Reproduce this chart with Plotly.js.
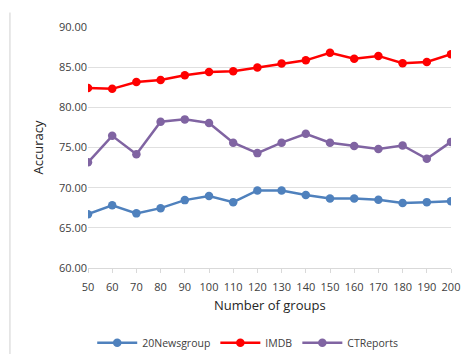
<!DOCTYPE html>
<html><head><meta charset="utf-8">
<script src="https://cdn.plot.ly/plotly-3.0.1.min.js"></script>
<style>html,body{margin:0;padding:0;background:#fff}#chart{width:461px;height:354px}</style>
</head><body><div id="chart"></div>
<script>
const groups = [50,60,70,80,90,100,110,120,130,140,150,160,170,180,190,200];
const newsgroup = [66.7,67.8,66.8,67.45,68.45,68.95,68.2,69.65,69.65,69.1,68.65,68.65,68.5,68.1,68.2,68.3];
const imdb = [82.4,82.3,83.15,83.4,84.0,84.4,84.5,84.95,85.45,85.85,86.8,86.05,86.4,85.5,85.65,86.6];
const ctreports = [73.15,76.45,74.15,78.2,78.5,78.05,75.6,74.3,75.6,76.7,75.6,75.2,74.8,75.25,73.6,75.7];
const yTicks = [60,65,70,75,80,85,90];

const mk = (name, y, color) => ({
  x: groups, y: y, name: name, type: 'scatter', mode: 'lines+markers',
  line: {color: color, width: 2.5}, marker: {color: color, size: 8.5}
});
const data = [
  mk('20Newsgroup', newsgroup, '#4F81BD'),
  mk('IMDB', imdb, '#FF0000'),
  mk('CTReports', ctreports, '#8064A2')
];
const font = {family: 'Open Sans, Liberation Sans, sans-serif', color: '#404040'};
const layout = {
  width: 461, height: 354,
  margin: {l: 88, r: 10, t: 27, b: 86, autoexpand: false},
  paper_bgcolor: '#fff', plot_bgcolor: '#fff',
  font: font,
  showlegend: true,
  legend: {orientation: 'h', x: 0.44, xanchor: 'center', y: -0.31, yanchor: 'middle',
           font: {size: 10.5, color: '#404040'}, itemwidth: 40, tracegroupgap: 0},
  xaxis: {
    range: [50, 200], tickvals: groups, ticktext: groups.map(String),
    showgrid: false, zeroline: false, showline: true, linecolor: '#d9d9d9', linewidth: 1,
    ticks: 'outside', ticklen: 4, tickcolor: '#d9d9d9', ticklabelstandoff: 5,
    tickfont: {size: 11, color: '#404040'}, automargin: false,
    fixedrange: true
  },
  yaxis: {
    range: [60, 90], tickvals: yTicks, ticktext: yTicks.map(v => v.toFixed(2)),
    showgrid: true, gridcolor: '#e0e0e0', gridwidth: 1, zeroline: false, showline: false,
    ticks: '', tickfont: {size: 11, color: '#404040'}, automargin: false,
    title: {text: 'Accuracy', font: {size: 13, color: '#262626'}, standoff: 12},
    fixedrange: true
  },
  annotations: [{text: 'Number of groups', xref: 'paper', yref: 'paper', x: 0.5, y: -0.154,
                 xanchor: 'center', yanchor: 'middle', showarrow: false,
                 font: {size: 13, color: '#262626'}}],
  shapes: [{type: 'line', xref: 'paper', yref: 'paper', x0: -0.215, x1: -0.215, y0: -0.36, y1: 1.06,
            line: {color: '#d0d0d0', width: 1}}]
};
Plotly.newPlot('chart', data, layout, {displayModeBar: false, staticPlot: true});
</script></body></html>
